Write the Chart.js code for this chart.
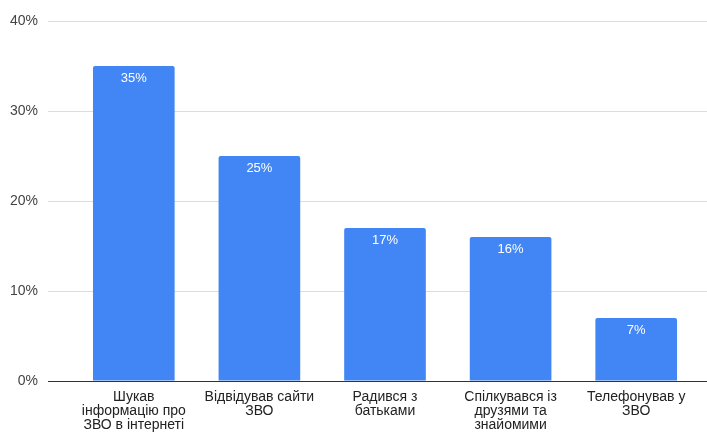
<!DOCTYPE html>
<html lang="uk">
<head>
<meta charset="utf-8">
<script src="https://cdn.jsdelivr.net/npm/chart.js@4"></script>
<style>
  html, body { margin: 0; padding: 0; background: #fff; }
  #wrap { width: 707px; height: 432px; position: relative; }
</style>
</head>
<body>
<div id="wrap"><canvas id="grafico"></canvas></div>
<script>
// Джерела інформації про ЗВО, частка респондентів (%)
const categorias = [
    ['Шукав', 'інформацію про', 'ЗВО в інтернеті'],
    ['Відвідував сайти', 'ЗВО'],
    ['Радився з', 'батьками'],
    ['Спілкувався із', 'друзями та', 'знайомими'],
    ['Телефонував у', 'ЗВО']
];
const valores = [35, 25, 17, 16, 7];
const ticksY = [0, 10, 20, 30, 40];

const fonte = '"Liberation Sans", Arial, sans-serif';
const corBarra = '#4285f4';
const corGrade = '#dcdcdc';
const corBase = '#333333';

// Підписи значень усередині стовпців
const rotulosValores = {
    id: 'rotulosValores',
    afterDatasetsDraw(chart) {
        const ctx = chart.ctx;
        const meta = chart.getDatasetMeta(0);
        ctx.save();
        ctx.fillStyle = '#ffffff';
        ctx.font = '13px ' + fonte;
        ctx.textAlign = 'center';
        ctx.textBaseline = 'middle';
        meta.data.forEach((bar, i) => {
            ctx.fillText(valores[i] + '%', bar.x, bar.y + 12);
        });
        ctx.restore();
    }
};

const ctx = document.getElementById('grafico').getContext('2d');
new Chart(ctx, {
    type: 'bar',
    data: {
        labels: categorias,
        datasets: [{
            data: valores,
            backgroundColor: corBarra,
            borderRadius: 2,
            borderSkipped: 'bottom',
            categoryPercentage: 0.65,
            barPercentage: 1
        }]
    },
    options: {
        responsive: true,
        maintainAspectRatio: false,
        animation: false,
        layout: { padding: { top: 21, left: 0, right: 0, bottom: 0 } },
        plugins: {
            legend: { display: false },
            tooltip: { enabled: false }
        },
        scales: {
            x: {
                afterFit: (scale) => { scale.height = 51; },
                grid: { display: false, drawTicks: false },
                border: { display: false },
                ticks: {
                    color: '#222',
                    padding: 9,
                    maxRotation: 0,
                    autoSkip: false,
                    font: { family: fonte, size: 14, lineHeight: 1.0 }
                }
            },
            y: {
                min: 0,
                max: 40,
                afterBuildTicks: (scale) => {
                    scale.ticks = ticksY.map(v => ({ value: v }));
                },
                afterFit: (scale) => { scale.width = 71; },
                grid: {
                    color: (c) => c.tick && c.tick.value === 0 ? corBase : corGrade,
                    tickColor: (c) => c.tick && c.tick.value === 0 ? corBase : corGrade,
                    lineWidth: 1,
                    tickLength: 23
                },
                border: { display: false },
                ticks: {
                    color: '#444',
                    padding: 10,
                    font: { family: fonte, size: 14 },
                    callback: (v) => v + '%'
                }
            },
            y2: {
                position: 'right',
                min: 0,
                max: 40,
                afterBuildTicks: (scale) => {
                    scale.ticks = ticksY.map(v => ({ value: v }));
                },
                afterFit: (scale) => { scale.width = 8; },
                grid: {
                    drawOnChartArea: false,
                    tickColor: (c) => c.tick && c.tick.value === 0 ? corBase : corGrade,
                    tickLength: 8
                },
                border: { display: false },
                ticks: { display: false }
            }
        }
    },
    plugins: [rotulosValores]
});
</script>
</body>
</html>
